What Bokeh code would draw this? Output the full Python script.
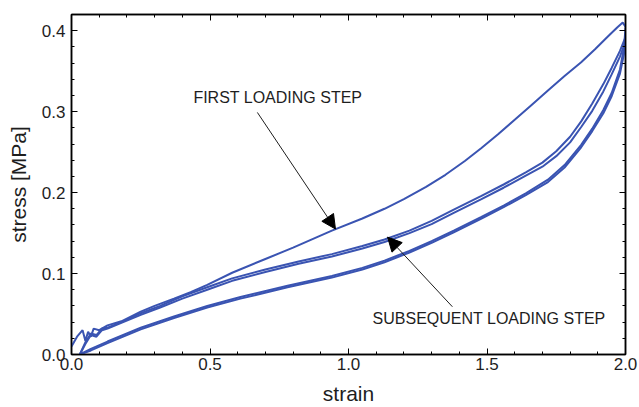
from bokeh.plotting import figure
from bokeh.models import (LinearAxis, FixedTicker, PrintfTickFormatter, CustomJSTickFormatter,
                          Arrow, NormalHead, Label, Range1d)
from bokeh.embed import file_html
from bokeh.resources import INLINE

# First loading step (virgin curve)
first_strain = [0.00, 0.02, 0.04, 0.05, 0.06, 0.07, 0.08, 0.10, 0.13, 0.18, 0.25, 0.30,
                0.37, 0.43, 0.49, 0.58, 0.70, 0.80, 0.94, 1.05, 1.13, 1.20, 1.28, 1.35,
                1.42, 1.48, 1.54, 1.60, 1.66, 1.72, 1.78, 1.84, 1.89, 1.94, 1.97, 1.99, 2.00]
first_stress = [0.010, 0.022, 0.030, 0.017, 0.028, 0.022, 0.032, 0.030, 0.036, 0.041,
                0.053, 0.060, 0.069, 0.077, 0.086, 0.101, 0.118, 0.132, 0.153, 0.168,
                0.180, 0.192, 0.207, 0.222, 0.239, 0.255, 0.272, 0.290, 0.308, 0.326,
                0.344, 0.361, 0.377, 0.394, 0.404, 0.410, 0.405]

# Unloading branches (two cycles, nearly coincident)
unl_strain = [2.00, 1.995, 1.98, 1.95, 1.92, 1.88, 1.84, 1.78, 1.72, 1.64, 1.56, 1.48,
              1.38, 1.30, 1.22, 1.13, 1.05, 0.94, 0.78, 0.61, 0.49, 0.37, 0.25, 0.13,
              0.07, 0.03]
unl1_stress = [0.404, 0.380, 0.352, 0.323, 0.302, 0.279, 0.259, 0.234, 0.216, 0.199,
               0.184, 0.170, 0.153, 0.140, 0.128, 0.116, 0.107, 0.097, 0.085, 0.071,
               0.060, 0.047, 0.033, 0.016, 0.007, 0.000]
unl2_stress = [0.390, 0.372, 0.347, 0.319, 0.298, 0.276, 0.256, 0.231, 0.213, 0.197,
               0.182, 0.168, 0.151, 0.138, 0.126, 0.114, 0.105, 0.095, 0.083, 0.069,
               0.058, 0.045, 0.031, 0.014, 0.005, 0.000]

# Subsequent loading steps
sub_strain = [0.03, 0.05, 0.07, 0.09, 0.11, 0.13, 0.18, 0.25, 0.32, 0.40, 0.49, 0.58,
              0.70, 0.82, 0.94, 1.05, 1.13, 1.22, 1.30, 1.38, 1.48, 1.56, 1.64, 1.70,
              1.75, 1.80, 1.84, 1.88, 1.92, 1.95, 1.98, 2.00]
sub1_stress = [0.000, 0.015, 0.026, 0.024, 0.032, 0.033, 0.040, 0.051, 0.060, 0.072,
               0.083, 0.094, 0.105, 0.115, 0.124, 0.134, 0.142, 0.153, 0.165, 0.179,
               0.196, 0.210, 0.225, 0.237, 0.251, 0.269, 0.288, 0.310, 0.334, 0.354,
               0.375, 0.392]
sub2_stress = [0.000, 0.013, 0.024, 0.022, 0.030, 0.032, 0.039, 0.049, 0.058, 0.069,
               0.080, 0.091, 0.102, 0.112, 0.121, 0.131, 0.139, 0.150, 0.161, 0.175,
               0.192, 0.206, 0.221, 0.232, 0.245, 0.262, 0.281, 0.301, 0.325, 0.346,
               0.368, 0.387]

x_major = [0.0, 0.5, 1.0, 1.5, 2.0]
x_minor = [round(0.1 * i, 1) for i in range(21)]
y_major = [0.0, 0.1, 0.2, 0.3, 0.4]
y_minor = [round(0.02 * i, 2) for i in range(22)]

BLUE = "#3a54b2"
INK = "#1e1e1e"
FONT = "Liberation Sans"

p = figure(width=639, height=407, x_range=Range1d(0, 2.0), y_range=Range1d(0, 0.42),
           output_backend="svg", toolbar_location=None,
           min_border_left=71, min_border_right=14, min_border_top=14,
           min_border_bottom=51)
p.grid.visible = False
p.outline_line_color = "black"
p.outline_line_width = 1.5
p.background_fill_color = "white"
p.border_fill_color = "white"

for ys in (unl1_stress, unl2_stress):
    p.line(unl_strain, ys, line_color=BLUE, line_width=2)
for ys in (sub1_stress, sub2_stress):
    p.line(sub_strain, ys, line_color=BLUE, line_width=2)
p.line(first_strain, first_stress, line_color=BLUE, line_width=2)


def style_axis(ax, major, minor, show_labels):
    ax.ticker = FixedTicker(ticks=major, minor_ticks=minor)
    ax.axis_line_color = "black"
    ax.axis_line_width = 1.5
    ax.major_tick_in = 6
    ax.major_tick_out = 0
    ax.minor_tick_in = 3
    ax.minor_tick_out = 0
    ax.major_tick_line_color = "black"
    ax.minor_tick_line_color = "black"
    ax.major_label_text_font = FONT
    ax.major_label_text_color = INK
    ax.major_label_text_font_size = "17px"
    if show_labels:
        ax.formatter = PrintfTickFormatter(format="%.1f")
    else:
        # tick marks only on the mirrored axes
        ax.formatter = CustomJSTickFormatter(code="return ''")
        ax.major_label_standoff = 0


style_axis(p.xaxis[0], x_major, x_minor, True)
style_axis(p.yaxis[0], y_major, y_minor, True)
p.xaxis[0].major_label_standoff = 3
p.yaxis[0].major_label_standoff = 6

p.xaxis[0].axis_label = "strain"
p.yaxis[0].axis_label = "stress [MPa]"
for ax in (p.xaxis[0], p.yaxis[0]):
    ax.axis_label_text_font = FONT
    ax.axis_label_text_font_size = "21px"
    ax.axis_label_text_font_style = "normal"
    ax.axis_label_text_color = INK
    ax.axis_label_standoff = 9

top = LinearAxis()
right = LinearAxis()
style_axis(top, x_major, x_minor, False)
style_axis(right, y_major, y_minor, False)
p.add_layout(top, "above")
p.add_layout(right, "right")

# Annotations
p.add_layout(Arrow(end=NormalHead(size=14, fill_color="black", line_color="black"),
                   x_start=0.671, y_start=0.299, x_end=0.953, y_end=0.155,
                   line_color=INK, line_width=1))
p.add_layout(Arrow(end=NormalHead(size=14, fill_color="black", line_color="black"),
                   x_start=1.375, y_start=0.059, x_end=1.141, y_end=0.145,
                   line_color=INK, line_width=1))
p.add_layout(Label(x=0.44, y=0.317, text="FIRST LOADING STEP", text_font=FONT,
                   text_font_size="16px", text_color=INK, text_baseline="middle"))
p.add_layout(Label(x=1.087, y=0.044, text="SUBSEQUENT LOADING STEP", text_font=FONT,
                   text_font_size="16px", text_color=INK, text_baseline="middle"))

open("out.html", "w").write(file_html(p, INLINE))
